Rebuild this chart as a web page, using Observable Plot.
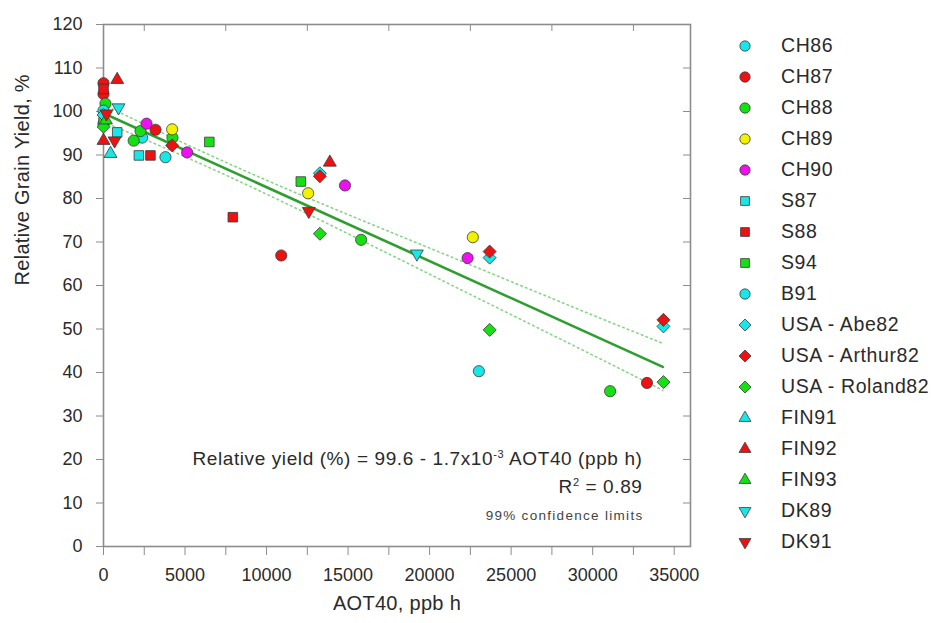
<!DOCTYPE html>
<html>
<head>
<meta charset="utf-8">
<script src="https://cdn.jsdelivr.net/npm/d3@7"></script>
<script src="https://cdn.jsdelivr.net/npm/@observablehq/plot@0.6"></script>
<style>
  html, body { margin: 0; padding: 0; background: #fff; }
  #wrap { position: relative; width: 931px; height: 623px; font-family: "Liberation Sans", Arial, sans-serif; }
  #legend { position: absolute; left: 733px; top: 30px; }
  .row { display: flex; align-items: center; height: 31px; font-size: 19.5px; letter-spacing: 0.6px; color: #2a2a2a; }
  .row svg { width: 24px; height: 24px; margin-right: 24px; overflow: visible; }
</style>
</head>
<body>
<div id="wrap"><div id="legend"></div></div>
<script>
// ---- series names (legend order) ----
const seriesNames = ["CH86","CH87","CH88","CH89","CH90","S87","S88","S94","B91",
  "USA - Abe82","USA - Arthur82","USA - Roland82","FIN91","FIN92","FIN93","DK89","DK91"];

// ---- data: AOT40 (ppb h) and relative grain yield (%) ----
const CH86_x = [0, 2370, 3800];           const CH86_y = [97.2, 94.0, 89.5];
const CH87_x = [0, 0, 3190, 10900, 33330]; const CH87_y = [106.5, 104.0, 95.8, 66.9, 37.6];
const CH88_x = [120, 1850, 2270, 4230, 15800, 31070]; const CH88_y = [101.8, 93.3, 95.5, 94.0, 70.5, 35.7];
const CH89_x = [4210, 12550, 22650];      const CH89_y = [95.9, 81.2, 71.1];
const CH90_x = [2640, 5130, 14810, 22330]; const CH90_y = [97.2, 90.6, 83.0, 66.3];
const S87_x  = [840, 2170];               const S87_y  = [95.2, 89.9];
const S88_x  = [0, 2880, 7930];           const S88_y  = [105.2, 89.9, 75.7];
const S94_x  = [0, 6490, 12100];          const S94_y  = [97.5, 93.0, 83.9];
const B91_x  = [0, 23020];                const B91_y  = [100.2, 40.3];
const Abe82_x = [0, 13270, 23680, 34340]; const Abe82_y = [99.2, 85.8, 66.4, 50.6];
const Arthur82_x = [4210, 13270, 23680, 34340]; const Arthur82_y = [92.2, 85.1, 67.8, 52.1];
const Roland82_x = [0, 13270, 23680, 34340];    const Roland82_y = [96.5, 71.9, 49.8, 37.8];
const FIN91_x = [430];                    const FIN91_y = [90.3];
const FIN92_x = [840, 0, 13880];          const FIN92_y = [107.3, 93.3, 88.3];
const FIN93_x = [150];                    const FIN93_y = [98.0];
const DK89_x = [920, 19220];              const DK89_y = [100.9, 67.3];
const DK91_x = [180, 680, 12590];         const DK91_y = [99.5, 93.3, 77.1];

const seriesX = [CH86_x, CH87_x, CH88_x, CH89_x, CH90_x, S87_x, S88_x, S94_x, B91_x,
  Abe82_x, Arthur82_x, Roland82_x, FIN91_x, FIN92_x, FIN93_x, DK89_x, DK91_x];
const seriesY = [CH86_y, CH87_y, CH88_y, CH89_y, CH90_y, S87_y, S88_y, S94_y, B91_y,
  Abe82_y, Arthur82_y, Roland82_y, FIN91_y, FIN92_y, FIN93_y, DK89_y, DK91_y];

// ---- regression line and 99% confidence limits ----
const fitX = [0, 34300];
const fitY = [99.6, 41.3];
const bandX = [0, 5000, 10000, 15000, 20000, 25000, 30000, 34300];
const bandUpper = [101.6, 92.6, 84.2, 76.3, 68.6, 60.9, 53.2, 46.7];
const bandLower = [97.6, 89.6, 81.0, 71.9, 62.6, 53.3, 44.0, 35.9];

// ---- tick values and texts ----
const xTicks = d3.range(0, 35001, 2500);
const xTopTicks = d3.range(2500, 35001, 5000);
const yTicks = d3.range(0, 121, 10);
const xTitle = "AOT40, ppb h";
const yTitle = "Relative Grain Yield, %";

// ---- styles ----
const C = {cyan: "#19e6e6", red: "#ee1111", green: "#14e014", yellow: "#f2f200", magenta: "#ee11ee"};
const triDown = {draw(ctx, size) {
  const s3 = Math.sqrt(3), y = -Math.sqrt(size / (s3 * 3));
  ctx.moveTo(0, -2 * y); ctx.lineTo(-s3 * y, y); ctx.lineTo(s3 * y, y); ctx.closePath();
}};
const triUp = {draw(ctx, size) {
  const s3 = Math.sqrt(3), y = -Math.sqrt(size / (s3 * 3));
  ctx.moveTo(0, 2 * y); ctx.lineTo(-s3 * y, -y); ctx.lineTo(s3 * y, -y); ctx.closePath();
}};
const diamond = {draw(ctx, size) {
  const h = Math.sqrt(size / 2);
  ctx.moveTo(0, -h); ctx.lineTo(h, 0); ctx.lineTo(0, h); ctx.lineTo(-h, 0); ctx.closePath();
}};
const square = {draw(ctx, size) {
  const h = Math.sqrt(size) / 2;
  ctx.rect(-h, -h, 2 * h, 2 * h);
}};
const circle = d3.symbolCircle;
const seriesStyle = [
  [circle, C.cyan, 5.6], [circle, C.red, 5.6], [circle, C.green, 5.6], [circle, C.yellow, 5.6], [circle, C.magenta, 5.6],
  [square, C.cyan, 5.4], [square, C.red, 5.4], [square, C.green, 5.4], [circle, C.cyan, 5.6],
  [diamond, C.cyan, 5.2], [diamond, C.red, 5.2], [diamond, C.green, 5.2],
  [triUp, C.cyan, 4.8], [triUp, C.red, 4.8], [triUp, C.green, 4.8], [triDown, C.cyan, 4.8], [triDown, C.red, 4.8]
];

const dotMarks = seriesNames.map((name, i) => Plot.dot(seriesX[i].map((x, j) => ({x, y: seriesY[i][j]})), {
  x: "x", y: "y", symbol: seriesStyle[i][0], fill: seriesStyle[i][1], r: seriesStyle[i][2],
  stroke: "#3a3a3a", strokeWidth: 0.8
}));

const fitData = fitX.map((x, i) => ({x, y: fitY[i]}));
const bandData = bandX.map((x, i) => ({x, u: bandUpper[i], l: bandLower[i]}));

const axisGray = "#8c8c8c";
const chart = Plot.plot({
  width: 931, height: 623,
  marginLeft: 103, marginRight: 241, marginTop: 24, marginBottom: 77,
  style: {fontFamily: "'Liberation Sans', Arial, sans-serif", fontSize: "18px", color: "#2a2a2a", background: "transparent"},
  x: {domain: [0, 36000]},
  y: {domain: [0, 120]},
  marks: [
    Plot.frame({stroke: axisGray, strokeWidth: 1.6}),
    Plot.axisY(yTicks, {anchor: "left", tickSize: 7, tickPadding: 14, stroke: axisGray, fill: "#2a2a2a",
      fontSize: 18, label: null, tickFormat: d => String(d)}),
    Plot.axisY(yTicks, {anchor: "right", tickSize: -8, stroke: axisGray, tickFormat: () => "", label: null}),
    Plot.axisX(xTicks, {anchor: "bottom", tickSize: 9, tickPadding: 13, stroke: axisGray, fill: "#2a2a2a",
      fontSize: 18, label: null, tickFormat: d => d % 5000 === 0 ? String(d) : ""}),
    Plot.axisX(xTopTicks, {anchor: "top", tickSize: -6, stroke: axisGray, tickFormat: () => "", label: null}),
    Plot.text([xTitle], {text: d => d, frameAnchor: "bottom", dy: 63, fontSize: 20, fill: "#2a2a2a"}),
    Plot.text([yTitle], {text: d => d, frameAnchor: "left", dx: -81, rotate: -90, fontSize: 20, fill: "#2a2a2a"}),
    Plot.line(bandData, {x: "x", y: "u", curve: "natural", stroke: "#86d486", strokeWidth: 1.6, strokeDasharray: "1.5,3.5"}),
    Plot.line(bandData, {x: "x", y: "l", curve: "natural", stroke: "#86d486", strokeWidth: 1.6, strokeDasharray: "1.5,3.5"}),
    Plot.line(fitData, {x: "x", y: "y", stroke: "#2e9e2e", strokeWidth: 2.6}),
    ...dotMarks,
    Plot.text(["Relative yield (%) = 99.6 - 1.7x10-3 AOT40 (ppb h)"], {text: d => d, frameAnchor: "bottom-right", dx: -48, dy: -82, textAnchor: "end", fontSize: 19, fill: "#2a2a2a"}),
    Plot.text(["R2 = 0.89"], {text: d => d, frameAnchor: "bottom-right", dx: -48, dy: -54, textAnchor: "end", fontSize: 19, fill: "#2a2a2a"}),
    Plot.text(["99% confidence limits"], {text: d => d, frameAnchor: "bottom-right", dx: -47, dy: -27, textAnchor: "end", fontSize: 13.5, fill: "#444"})
  ]
});

// superscripts and letter spacing for annotation texts
d3.select(chart).selectAll("text").each(function() {
  const t = this.textContent;
  if (t === "Relative yield (%) = 99.6 - 1.7x10-3 AOT40 (ppb h)") {
    this.innerHTML = 'Relative yield (%) = 99.6 - 1.7x10<tspan dy="-7" font-size="11">-3</tspan><tspan dy="7"> AOT40 (ppb h)</tspan>';
    this.style.letterSpacing = "0.6px";
  } else if (t === "R2 = 0.89") {
    this.innerHTML = 'R<tspan dy="-7" font-size="11">2</tspan><tspan dy="7"> = 0.89</tspan>';
    this.style.letterSpacing = "0.6px";
  } else if (t === "99% confidence limits") {
    this.style.letterSpacing = "1.3px";
  } else if (t === xTitle || t === yTitle) {
    this.style.letterSpacing = "0.3px";
  }
});
document.getElementById("wrap").appendChild(chart);
chart.style.position = "absolute"; chart.style.left = "0"; chart.style.top = "0";

// legend
const legend = d3.select("#legend");
seriesNames.forEach((name, i) => {
  const row = legend.append("div").attr("class", "row");
  const svg = row.append("svg").attr("viewBox", "-12 -12 24 24");
  const r = seriesStyle[i][2] * 0.92;
  svg.append("path").attr("d", d3.symbol(seriesStyle[i][0], Math.PI * r * r)())
    .attr("fill", seriesStyle[i][1]).attr("stroke", "#3a3a3a").attr("stroke-width", 0.8);
  row.append("span").text(name);
});
</script>
</body>
</html>
